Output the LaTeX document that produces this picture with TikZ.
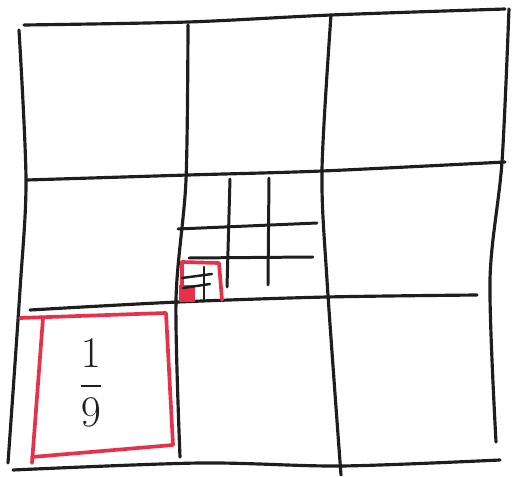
\documentclass[tikz,border=0pt]{standalone}
\usepackage{amsmath}
\usepackage{tikz}
\definecolor{inkblack}{HTML}{1E1E1E}
\definecolor{inkred}{HTML}{E8304A}
\tikzset{
  gridline/.style={draw=inkblack, line width=1.8pt, line cap=round, line join=round},
  subline/.style={draw=inkblack, line width=1.7pt, line cap=round},
  tinyline/.style={draw=inkblack, line width=1.4pt, line cap=round},
  redline/.style={draw=inkred, line width=2.1pt, line cap=round, line join=round},
  fraclabel/.style={font=\fontsize{24}{28}\selectfont, text=inkblack, inner sep=0pt}
}
\begin{document}
\begin{tikzpicture}[x=0.02cm, y=-0.02cm]
  \useasboundingbox (0,0) rectangle (512,477);
  % outer grid, horizontals
  \draw[gridline] plot[smooth] coordinates {(24,25) (188,22) (331,15) (505,9)};
  \draw[gridline] plot[smooth] coordinates {(27,180) (188,175) (322,171) (505,162)};
  \draw[gridline] plot[smooth] coordinates {(30,310) (178,302) (327,297) (477,295)};
  \draw[gridline] plot[smooth] coordinates {(13,470) (200,463) (341,466) (500,460)};
  % outer grid, verticals
  \draw[gridline] plot[smooth] coordinates {(19,30) (26,180) (20,290) (8,463)};
  \draw[gridline] plot[smooth] coordinates {(188,25) (186,180) (176,300) (180,457)};
  \draw[gridline] plot[smooth] coordinates {(331,15) (322,170) (327,280) (341,475)};
  \draw[gridline] plot[smooth] coordinates {(509,9) (502,162) (490,280) (496,442)};
  % grid inside the middle cell
  \draw[subline] (230,179) -- (227,287);
  \draw[subline] (269,178) -- (268,285);
  \draw[subline] (178,229) -- (317,223);
  \draw[subline] (189,258) -- (313,257);
  % smallest cell in red
  \fill[inkred] (179,285) rectangle (195,302);
  \draw[redline] (182,300) -- (182,262) -- (219,263) -- (222,300);
  \draw[tinyline] (182,278) -- (212,274);
  \draw[tinyline] (183,288) -- (210,284);
  \draw[tinyline] (204,267) -- (204,301);
  % one ninth cell
  \draw[redline] (20,318) -- (166,313) -- (173,445) -- (32,457);
  \draw[redline] (43,318) -- (32,463);
  \node[fraclabel] (ninth) at (91,383) {$\dfrac{1}{9}$};
\end{tikzpicture}
\end{document}
